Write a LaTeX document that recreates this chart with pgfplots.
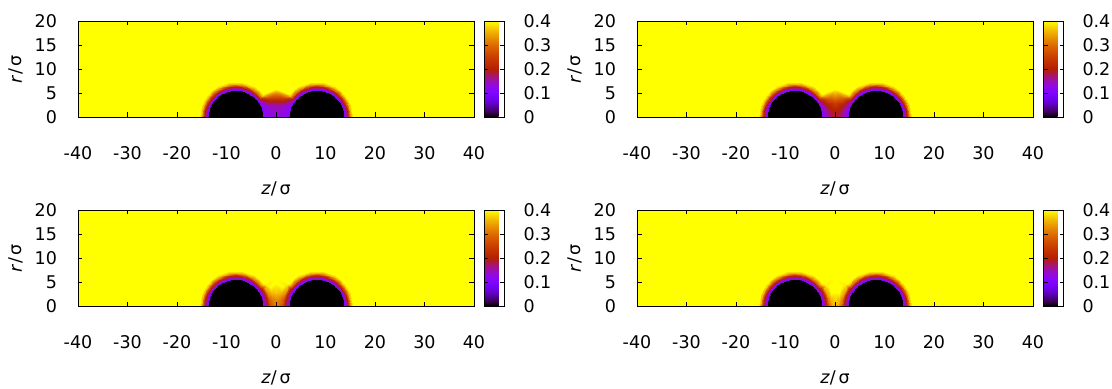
\documentclass[border=0pt]{standalone}
\usepackage{pgfplots}
\usepackage{pgfplotstable}
\pgfplotsset{compat=1.18}
\usepackage{fontspec}
\setmainfont{DejaVu Sans}
\definecolor{ylw}{rgb}{1,1,0}
\pgfplotsset{colormap={gp}{
rgb=(0,0,0)
rgb=(0.2236,0.0001,0.3090)
rgb=(0.3162,0.001,0.5878)
rgb=(0.3873,0.0034,0.8090)
rgb=(0.4472,0.008,0.9511)
rgb=(0.5,0.0156,1)
rgb=(0.5477,0.027,0.9511)
rgb=(0.5916,0.0429,0.8090)
rgb=(0.6325,0.064,0.5878)
rgb=(0.6708,0.0911,0.3090)
rgb=(0.7071,0.125,0)
rgb=(0.7416,0.1664,0)
rgb=(0.7746,0.216,0)
rgb=(0.8062,0.2746,0)
rgb=(0.8367,0.343,0)
rgb=(0.8660,0.4219,0)
rgb=(0.8944,0.512,0)
rgb=(0.9220,0.6141,0)
rgb=(0.9487,0.729,0)
rgb=(0.9747,0.8574,0)
rgb=(1,1,0)}}
\pgfplotsset{
 panel/.style={
  anchor=south west,
  scale only axis, width=396bp, height=96bp,
  xmin=-40, xmax=40, ymin=0, ymax=20,
  xtick={-40,-30,-20,-10,0,10,20,30,40},
  xticklabels={-40,-30,-20,-10,0,10,20,30,40},
  ytick={0,5,10,15,20}, yticklabels={0,5,10,15,20},
  tick align=inside, major tick length=4.5bp,
  axis line style={line width=0.9bp},
  every tick/.style={black, line width=0.9bp},
  axis background/.style={fill=ylw},
  axis on top,
  colormap name=gp, point meta min=0, point meta max=0.4,
  xticklabel style={yshift=-23bp},
  yticklabel style={xshift=-15bp},
  xlabel={\textit{z}/\,σ}, ylabel={\textit{r}/\,σ},
  xlabel style={at={(axis description cs:0.5,-0.81)}, anchor=base},
  ylabel style={at={(axis description cs:-0.142,0.5)}, anchor=base},
  colorbar,
  colorbar style={
   at={(parent axis.north east)}, anchor=north west, xshift=2bp,
   scale only axis, width=20bp, height=96bp,
   ytick={0,0.1,0.2,0.3,0.4}, yticklabels={0,0.1,0.2,0.3,0.4},
   ytick pos=both, yticklabel pos=right,
   tick align=inside, major tick length=4bp,
   yticklabel style={xshift=13bp},
  },
 },
 rs/.style={surf, shader=interp, mesh/cols=8, point meta=\thisrow{v}},
}
\begin{document}
% rays: angle t (deg, from +z), distance d from sphere centre, density v
\pgfplotstableread{
t d v
0 0 0
0 5.55 0
0 5.63 0.11
0 5.9 0.14
0 6.25 0.2
0 6.6 0.29
0 6.95 0.36
0 7.35 0.4
10 0 0
10 5.55 0
10 5.63 0.11
10 5.9 0.14
10 6.25 0.2
10 6.6 0.29
10 6.95 0.36
10 7.35 0.4
20 0 0
20 5.55 0
20 5.63 0.11
20 5.9 0.14
20 6.25 0.2
20 6.6 0.29
20 6.95 0.36
20 7.35 0.4
30 0 0
30 5.55 0
30 5.63 0.11
30 5.9 0.14
30 6.25 0.2
30 6.6 0.29
30 6.95 0.36
30 7.35 0.4
40 0 0
40 5.55 0
40 5.63 0.11
40 5.9 0.14
40 6.25 0.2
40 6.6 0.29
40 6.95 0.36
40 7.35 0.4
50 0 0
50 5.55 0
50 5.63 0.11
50 5.9 0.14
50 6.25 0.2
50 6.6 0.29
50 6.95 0.36
50 7.35 0.4
60 0 0
60 5.55 0
60 5.63 0.11
60 5.9 0.14
60 6.25 0.2
60 6.6 0.29
60 6.95 0.36
60 7.35 0.4
70 0 0
70 5.55 0
70 5.63 0.11
70 5.9 0.14
70 6.25 0.2
70 6.6 0.29
70 6.95 0.36
70 7.35 0.4
80 0 0
80 5.55 0
80 5.63 0.11
80 5.9 0.14
80 6.25 0.2
80 6.6 0.29
80 6.95 0.36
80 7.35 0.4
90 0 0
90 5.55 0
90 5.63 0.11
90 5.9 0.14
90 6.25 0.2
90 6.6 0.29
90 6.95 0.36
90 7.35 0.4
100 0 0
100 5.55 0
100 5.63 0.11
100 5.9 0.14
100 6.25 0.2
100 6.6 0.29
100 6.95 0.36
100 7.35 0.4
110 0 0
110 5.55 0
110 5.63 0.11
110 5.9 0.14
110 6.25 0.2
110 6.6 0.29
110 6.95 0.36
110 7.35 0.4
120 0 0
120 5.55 0
120 5.63 0.11
120 5.9 0.14
120 6.25 0.2
120 6.6 0.29
120 6.95 0.36
120 7.35 0.4
130 0 0
130 5.55 0
130 5.63 0.11
130 5.9 0.14
130 6.25 0.2
130 6.6 0.29
130 6.95 0.36
130 7.35 0.4
140 0 0
140 5.55 0
140 5.63 0.11
140 5.9 0.14
140 6.25 0.2
140 6.6 0.29
140 6.95 0.36
140 7.35 0.4
}\stdtab
\pgfplotstableread{
t d v
140 0 0
140 5.55 0
140 5.63 0.11
140 5.9 0.14
140 6.25 0.2
140 6.6 0.29
140 6.95 0.36
140 7.35 0.4
145 0 0
145 5.55 0
145 5.63 0.11
145 5.92 0.14
145 6.3 0.18
145 6.75 0.24
145 7.5 0.32
145 10.06 0.4
150 0 0
150 5.55 0
150 5.63 0.11
150 5.95 0.13
150 6.4 0.15
150 7.0 0.19
150 8.0 0.25
150 9.52 0.31
160 0 0
160 5.55 0
160 5.63 0.11
160 5.95 0.12
160 6.4 0.13
160 7.0 0.14
160 7.8 0.155
160 8.78 0.17
170 0 0
170 5.55 0
170 5.63 0.11
170 5.95 0.12
170 6.4 0.125
170 6.95 0.13
170 7.6 0.135
170 8.38 0.135
180 0 0
180 5.55 0
180 5.63 0.11
180 5.95 0.12
180 6.4 0.125
180 6.95 0.13
180 7.6 0.13
180 8.25 0.13
}\neckA
\pgfplotstableread{
t d v
140 0 0
140 5.55 0
140 5.63 0.11
140 5.9 0.14
140 6.25 0.2
140 6.6 0.29
140 6.95 0.36
140 7.35 0.4
145 0 0
145 5.55 0
145 5.63 0.11
145 5.92 0.14
145 6.3 0.2
145 6.75 0.27
145 7.5 0.34
145 10.06 0.4
150 0 0
150 5.55 0
150 5.63 0.11
150 5.95 0.14
150 6.4 0.18
150 7.0 0.23
150 8.0 0.29
150 9.52 0.35
160 0 0
160 5.55 0
160 5.63 0.11
160 5.95 0.13
160 6.4 0.16
160 7.0 0.19
160 7.8 0.22
160 8.78 0.25
170 0 0
170 5.55 0
170 5.63 0.11
170 5.95 0.125
170 6.4 0.145
170 6.95 0.17
170 7.6 0.19
170 8.38 0.2
180 0 0
180 5.55 0
180 5.63 0.11
180 5.95 0.125
180 6.4 0.14
180 6.95 0.16
180 7.6 0.18
180 8.25 0.19
}\neckB
\pgfplotstableread{
t d v
140 0 0
140 5.55 0
140 5.63 0.11
140 5.9 0.14
140 6.25 0.2
140 6.6 0.29
140 6.95 0.36
140 7.35 0.4
145 0 0
145 5.55 0
145 5.63 0.11
145 5.92 0.14
145 6.3 0.2
145 6.75 0.3
145 7.5 0.39
145 10.06 0.4
150 0 0
150 5.55 0
150 5.63 0.11
150 5.95 0.145
150 6.4 0.21
150 7.0 0.34
150 8.0 0.4
150 9.52 0.4
160 0 0
160 5.55 0
160 5.63 0.11
160 5.95 0.145
160 6.4 0.21
160 7.0 0.32
160 7.8 0.36
160 8.78 0.37
170 0 0
170 5.55 0
170 5.63 0.11
170 5.95 0.145
170 6.4 0.2
170 6.95 0.28
170 7.6 0.31
170 8.38 0.33
180 0 0
180 5.55 0
180 5.63 0.11
180 5.95 0.145
180 6.4 0.2
180 6.95 0.27
180 7.6 0.3
180 8.25 0.31
}\neckC
\pgfplotstableread{
t d v
140 0 0
140 5.55 0
140 5.63 0.11
140 5.9 0.14
140 6.25 0.2
140 6.6 0.29
140 6.95 0.36
140 7.35 0.4
145 0 0
145 5.55 0
145 5.63 0.11
145 5.92 0.14
145 6.3 0.2
145 6.75 0.3
145 7.5 0.39
145 10.06 0.4
150 0 0
150 5.55 0
150 5.63 0.11
150 5.95 0.145
150 6.4 0.21
150 7.0 0.35
150 8.0 0.4
150 9.52 0.4
160 0 0
160 5.55 0
160 5.63 0.11
160 5.95 0.145
160 6.4 0.21
160 7.0 0.34
160 7.8 0.4
160 8.78 0.4
170 0 0
170 5.55 0
170 5.63 0.11
170 5.95 0.145
170 6.4 0.21
170 6.95 0.31
170 7.6 0.36
170 8.38 0.38
180 0 0
180 5.55 0
180 5.63 0.11
180 5.95 0.145
180 6.4 0.21
180 6.95 0.3
180 7.6 0.35
180 8.25 0.36
}\neckD
\fontsize{17.5bp}{21bp}\selectfont
\begin{tikzpicture}
\useasboundingbox (0,0) rectangle (1112bp,389bp);
% top left
\begin{axis}[panel, at={(78bp,272bp)}]
\addplot[rs] table[x expr={8.2+\thisrow{d}*cos(\thisrow{t})}, y expr={\thisrow{d}*sin(\thisrow{t})}] {\stdtab};
\addplot[rs] table[x expr={8.2+\thisrow{d}*cos(\thisrow{t})}, y expr={\thisrow{d}*sin(\thisrow{t})}] {\neckA};
\addplot[rs] table[x expr={-8.2-\thisrow{d}*cos(\thisrow{t})}, y expr={\thisrow{d}*sin(\thisrow{t})}] {\stdtab};
\addplot[rs] table[x expr={-8.2-\thisrow{d}*cos(\thisrow{t})}, y expr={\thisrow{d}*sin(\thisrow{t})}] {\neckA};
\end{axis}
% top right
\begin{axis}[panel, at={(637bp,272bp)}]
\addplot[rs] table[x expr={8.2+\thisrow{d}*cos(\thisrow{t})}, y expr={\thisrow{d}*sin(\thisrow{t})}] {\stdtab};
\addplot[rs] table[x expr={8.2+\thisrow{d}*cos(\thisrow{t})}, y expr={\thisrow{d}*sin(\thisrow{t})}] {\neckB};
\addplot[rs] table[x expr={-8.2-\thisrow{d}*cos(\thisrow{t})}, y expr={\thisrow{d}*sin(\thisrow{t})}] {\stdtab};
\addplot[rs] table[x expr={-8.2-\thisrow{d}*cos(\thisrow{t})}, y expr={\thisrow{d}*sin(\thisrow{t})}] {\neckB};
\end{axis}
% bottom left
\begin{axis}[panel, at={(78bp,83bp)}]
\addplot[rs] table[x expr={8.2+\thisrow{d}*cos(\thisrow{t})}, y expr={\thisrow{d}*sin(\thisrow{t})}] {\stdtab};
\addplot[rs] table[x expr={8.2+\thisrow{d}*cos(\thisrow{t})}, y expr={\thisrow{d}*sin(\thisrow{t})}] {\neckC};
\addplot[rs] table[x expr={-8.2-\thisrow{d}*cos(\thisrow{t})}, y expr={\thisrow{d}*sin(\thisrow{t})}] {\stdtab};
\addplot[rs] table[x expr={-8.2-\thisrow{d}*cos(\thisrow{t})}, y expr={\thisrow{d}*sin(\thisrow{t})}] {\neckC};
\end{axis}
% bottom right
\begin{axis}[panel, at={(637bp,83bp)}]
\addplot[rs] table[x expr={8.2+\thisrow{d}*cos(\thisrow{t})}, y expr={\thisrow{d}*sin(\thisrow{t})}] {\stdtab};
\addplot[rs] table[x expr={8.2+\thisrow{d}*cos(\thisrow{t})}, y expr={\thisrow{d}*sin(\thisrow{t})}] {\neckD};
\addplot[rs] table[x expr={-8.2-\thisrow{d}*cos(\thisrow{t})}, y expr={\thisrow{d}*sin(\thisrow{t})}] {\stdtab};
\addplot[rs] table[x expr={-8.2-\thisrow{d}*cos(\thisrow{t})}, y expr={\thisrow{d}*sin(\thisrow{t})}] {\neckD};
\end{axis}
\end{tikzpicture}
\end{document}
